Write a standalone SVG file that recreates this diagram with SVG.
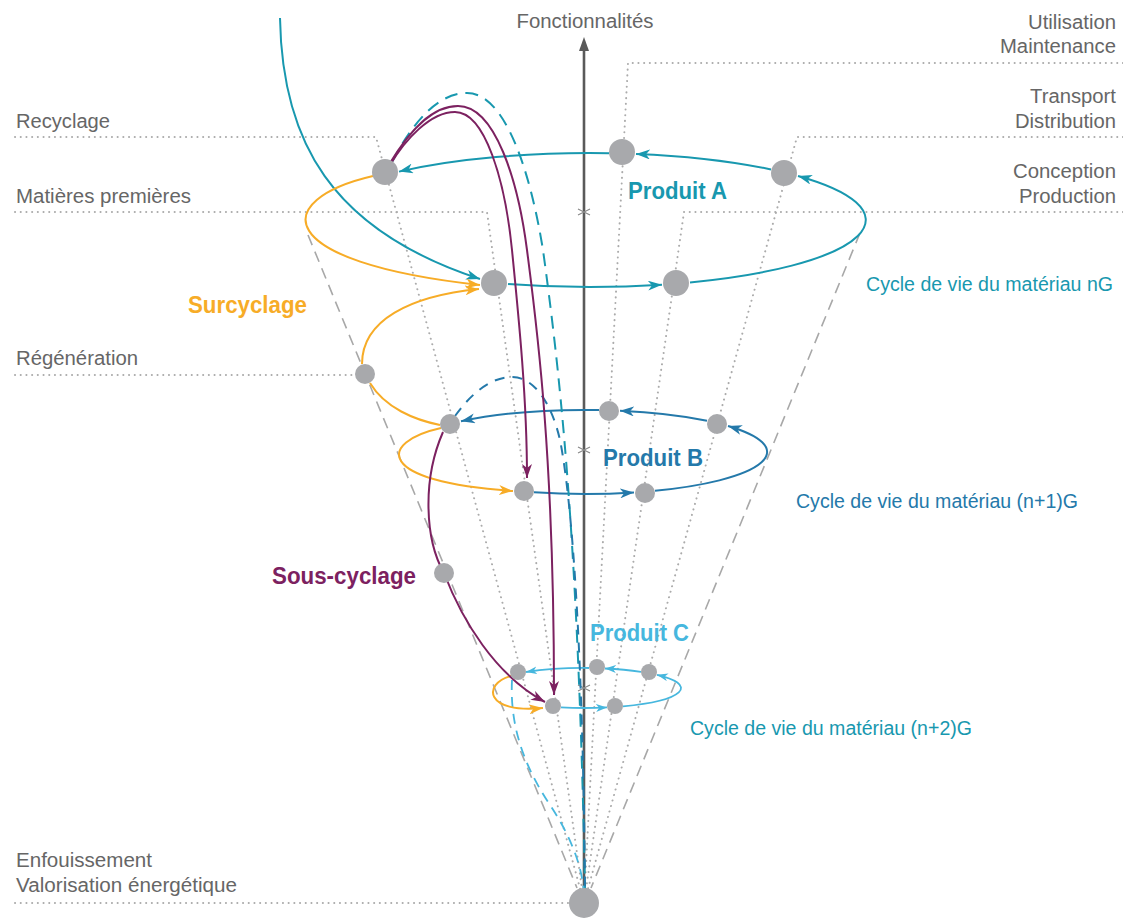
<svg xmlns="http://www.w3.org/2000/svg" width="1123" height="918" viewBox="0 0 1123 918">
<style>
.dot{fill:none;stroke:#ababab;stroke-width:2;stroke-dasharray:0.1 5.6;stroke-linecap:round}
.cone{fill:none;stroke:#a8a8a8;stroke-width:1.6;stroke-dasharray:11 7}
.lbl{font-family:"Liberation Sans",Arial,sans-serif;font-size:19.5px;fill:#666}
.cyc{font-family:"Liberation Sans Narrow","Liberation Sans",Arial,sans-serif;font-size:20px}
.big{font-family:"Liberation Sans Narrow","Liberation Sans",Arial,sans-serif;font-weight:bold}
.node{fill:#a8a9ac}
.ta{fill:none;stroke:#1898af;stroke-width:2}
.tb{fill:none;stroke:#2479aa;stroke-width:2}
.tc{fill:none;stroke:#46b7de;stroke-width:1.8}
.or{fill:none;stroke:#f7ac27;stroke-width:2}
.pu{fill:none;stroke:#7c2160;stroke-width:2}
</style>
<defs>
<marker id="mA" viewBox="0 0 14 10" refX="14" refY="5" markerWidth="14" markerHeight="10" markerUnits="userSpaceOnUse" orient="auto"><path d="M0,0 L14,5 L0,10 L4,5 z" fill="#1898af"/></marker>
<marker id="mB" viewBox="0 0 14 10" refX="14" refY="5" markerWidth="14" markerHeight="10" markerUnits="userSpaceOnUse" orient="auto"><path d="M0,0 L14,5 L0,10 L4,5 z" fill="#2479aa"/></marker>
<marker id="mC" viewBox="0 0 14 10" refX="14" refY="5" markerWidth="11" markerHeight="8" markerUnits="userSpaceOnUse" orient="auto"><path d="M0,0 L14,5 L0,10 L4,5 z" fill="#46b7de"/></marker>
<marker id="mO" viewBox="0 0 14 10" refX="14" refY="5" markerWidth="14" markerHeight="10" markerUnits="userSpaceOnUse" orient="auto"><path d="M0,0 L14,5 L0,10 L4,5 z" fill="#f7ac27"/></marker>
<marker id="mP" viewBox="0 0 14 10" refX="14" refY="5" markerWidth="14" markerHeight="10" markerUnits="userSpaceOnUse" orient="auto"><path d="M0,0 L14,5 L0,10 L4,5 z" fill="#7c2160"/></marker>
</defs>

<g id="guides">
<polyline class="dot" points="15,137 376,137 584,903"/>
<polyline class="dot" points="15,212 487,212 584,903"/>
<polyline class="dot" points="1123,63 628,63 584,903"/>
<polyline class="dot" points="1123,137 797,137 584,903"/>
<polyline class="dot" points="1123,212 684,212 584,903"/>
<polyline class="dot" points="15,375 355,375"/>
<polyline class="dot" points="15,903 570,903"/>
<path class="cone" d="M308,235 L577,888"/>
<path class="cone" d="M860,233 L591,888"/>
</g>

<g id="axis">
<line x1="584" y1="903" x2="584" y2="50" stroke="#5a5a5a" stroke-width="2.6"/>
<path d="M584,37 L589,51 L579,51 z" fill="#5a5a5a"/>
<path d="M578,209 L590,215 M578,215 L590,209 M578,447 L590,453 M578,453 L590,447 M578,685 L590,691 M578,691 L590,685" stroke="#8a8a8a" stroke-width="1.2" fill="none"/>
</g>

<g id="connectors">
<path class="ta" d="M280,18 C282,140 330,230 480,279" marker-end="url(#mA)"/>
<path class="ta" d="M508,284 A276,67 0 0 0 662,284.7" marker-end="url(#mA)"/>
<path class="ta" d="M690,282.4 A276,67 0 0 0 798,176" marker-end="url(#mA)"/>
<path class="ta" d="M771,169.4 A276,67 0 0 0 636,153.9" marker-end="url(#mA)"/>
<path class="ta" d="M609,153.2 A276,67 0 0 0 399,171.6" marker-end="url(#mA)"/>
<path class="tb" d="M534,492.3 A182,42 0 0 0 634,492.5" marker-end="url(#mB)"/>
<path class="tb" d="M655,490.8 A182,42 0 0 0 728,426" marker-end="url(#mB)"/>
<path class="tb" d="M707,420.8 A182,42 0 0 0 620,410.8" marker-end="url(#mB)"/>
<path class="tb" d="M599,410.1 A182,42 0 0 0 461,421.3" marker-end="url(#mB)"/>
<path class="tc" d="M561,707.4 A97,20 0 0 0 607,707.4" marker-end="url(#mC)"/>
<path class="tc" d="M623,706.3 A97,20 0 0 0 657,674.8" marker-end="url(#mC)"/>
<path class="tc" d="M641,671.8 A97,20 0 0 0 605,668.5" marker-end="url(#mC)"/>
<path class="tc" d="M589,668 A97,20 0 0 0 526,672" marker-end="url(#mC)"/>
<path class="ta" stroke-dasharray="13 8" d="M392,162 C415,118 440,93 467,93 C505,93 530,170 543,250 C558,360 578,520 585,890"/>
<path class="tb" stroke-dasharray="10 8" d="M455,416 C470,395 490,377 512,377 C535,377 552,405 560,440 C572,500 583,650 585,890"/>
<path class="tc" stroke-dasharray="10 7" d="M512,680 C510,720 520,760 550,805 C570,835 582,865 584,893"/>
<path class="or" d="M373,176 C270,200 270,262 480,285" marker-end="url(#mO)"/>
<path class="or" d="M362,364 C362,320 410,296 479,289" marker-end="url(#mO)"/>
<path class="or" d="M370,383 C385,408 415,420 440,425"/>
<path class="or" d="M441,428 C378,442 374,482 513,491" marker-end="url(#mO)"/>
<path class="or" d="M511,676 C482,684 485,714 543,708" marker-end="url(#mO)"/>
<path class="pu" d="M390,165 C405,140 430,112 455,112 C485,112 505,180 512,250 C519,320 527,400 527,478" marker-end="url(#mP)"/>
<path class="pu" d="M390,163 C410,130 432,106 458,106 C495,106 518,180 527,250 C536,320 554,450 554,695" marker-end="url(#mP)"/>
<path class="pu" d="M443,432 C422,480 425,540 444,573 C462,620 495,675 545,702" marker-end="url(#mP)"/>
</g>

<g id="nodes-A">
<circle class="node" cx="385" cy="172" r="13"/>
<circle class="node" cx="622" cy="152" r="13"/>
<circle class="node" cx="784" cy="173" r="13"/>
<circle class="node" cx="676" cy="283" r="13"/>
<circle class="node" cx="494" cy="283" r="13"/>
</g>
<g id="nodes-B">
<circle class="node" cx="450" cy="424" r="10"/>
<circle class="node" cx="609" cy="411" r="10"/>
<circle class="node" cx="717" cy="424" r="10"/>
<circle class="node" cx="645" cy="493" r="10"/>
<circle class="node" cx="524" cy="491" r="10"/>
</g>
<g id="node-regen"><circle class="node" cx="365" cy="374" r="10"/></g>
<g id="node-down"><circle class="node" cx="444" cy="573" r="10"/></g>
<g id="nodes-C">
<circle class="node" cx="518" cy="672" r="8"/>
<circle class="node" cx="597" cy="667" r="8"/>
<circle class="node" cx="649" cy="672" r="8"/>
<circle class="node" cx="615" cy="706" r="8"/>
<circle class="node" cx="553" cy="706" r="8"/>
</g>
<g id="node-end"><circle class="node" cx="584" cy="903" r="15"/></g>

<g id="labels">
<text class="lbl" x="585" y="28" text-anchor="middle" textLength="137" lengthAdjust="spacingAndGlyphs">Fonctionnalités</text>
<text class="lbl" x="16" y="128" textLength="94" lengthAdjust="spacingAndGlyphs">Recyclage</text>
<text class="lbl" x="16" y="203" textLength="175" lengthAdjust="spacingAndGlyphs">Matières premières</text>
<text class="lbl" x="16" y="365" textLength="122" lengthAdjust="spacingAndGlyphs">Régénération</text>
<text class="lbl" x="16" y="867" textLength="136" lengthAdjust="spacingAndGlyphs">Enfouissement</text>
<text class="lbl" x="16" y="892" textLength="221" lengthAdjust="spacingAndGlyphs">Valorisation énergétique</text>
<text class="lbl" x="1116" y="29" text-anchor="end" textLength="88" lengthAdjust="spacingAndGlyphs">Utilisation</text>
<text class="lbl" x="1116" y="53" text-anchor="end" textLength="116" lengthAdjust="spacingAndGlyphs">Maintenance</text>
<text class="lbl" x="1116" y="103" text-anchor="end" textLength="86" lengthAdjust="spacingAndGlyphs">Transport</text>
<text class="lbl" x="1116" y="128" text-anchor="end" textLength="101" lengthAdjust="spacingAndGlyphs">Distribution</text>
<text class="lbl" x="1116" y="178" text-anchor="end" textLength="103" lengthAdjust="spacingAndGlyphs">Conception</text>
<text class="lbl" x="1116" y="203" text-anchor="end" textLength="97" lengthAdjust="spacingAndGlyphs">Production</text>
<text class="cyc" x="866" y="291" fill="#1898af" textLength="247" lengthAdjust="spacingAndGlyphs">Cycle de vie du matériau nG</text>
<text class="cyc" x="796" y="508" fill="#2479aa" textLength="282" lengthAdjust="spacingAndGlyphs">Cycle de vie du matériau (n+1)G</text>
<text class="cyc" x="690" y="735" fill="#1898af" textLength="282" lengthAdjust="spacingAndGlyphs">Cycle de vie du matériau (n+2)G</text>
<text class="big" x="628" y="199" font-size="24" fill="#1898af" textLength="99" lengthAdjust="spacingAndGlyphs">Produit A</text>
<text class="big" x="603" y="466" font-size="24" fill="#2479aa" textLength="100" lengthAdjust="spacingAndGlyphs">Produit B</text>
<text class="big" x="590" y="641" font-size="24" fill="#46b7de" textLength="99" lengthAdjust="spacingAndGlyphs">Produit C</text>
<text class="big" x="188" y="313" font-size="23" fill="#f7ac27" textLength="119" lengthAdjust="spacingAndGlyphs">Surcyclage</text>
<text class="big" x="272" y="584" font-size="23" fill="#7c2160" textLength="144" lengthAdjust="spacingAndGlyphs">Sous-cyclage</text>
</g>
</svg>
